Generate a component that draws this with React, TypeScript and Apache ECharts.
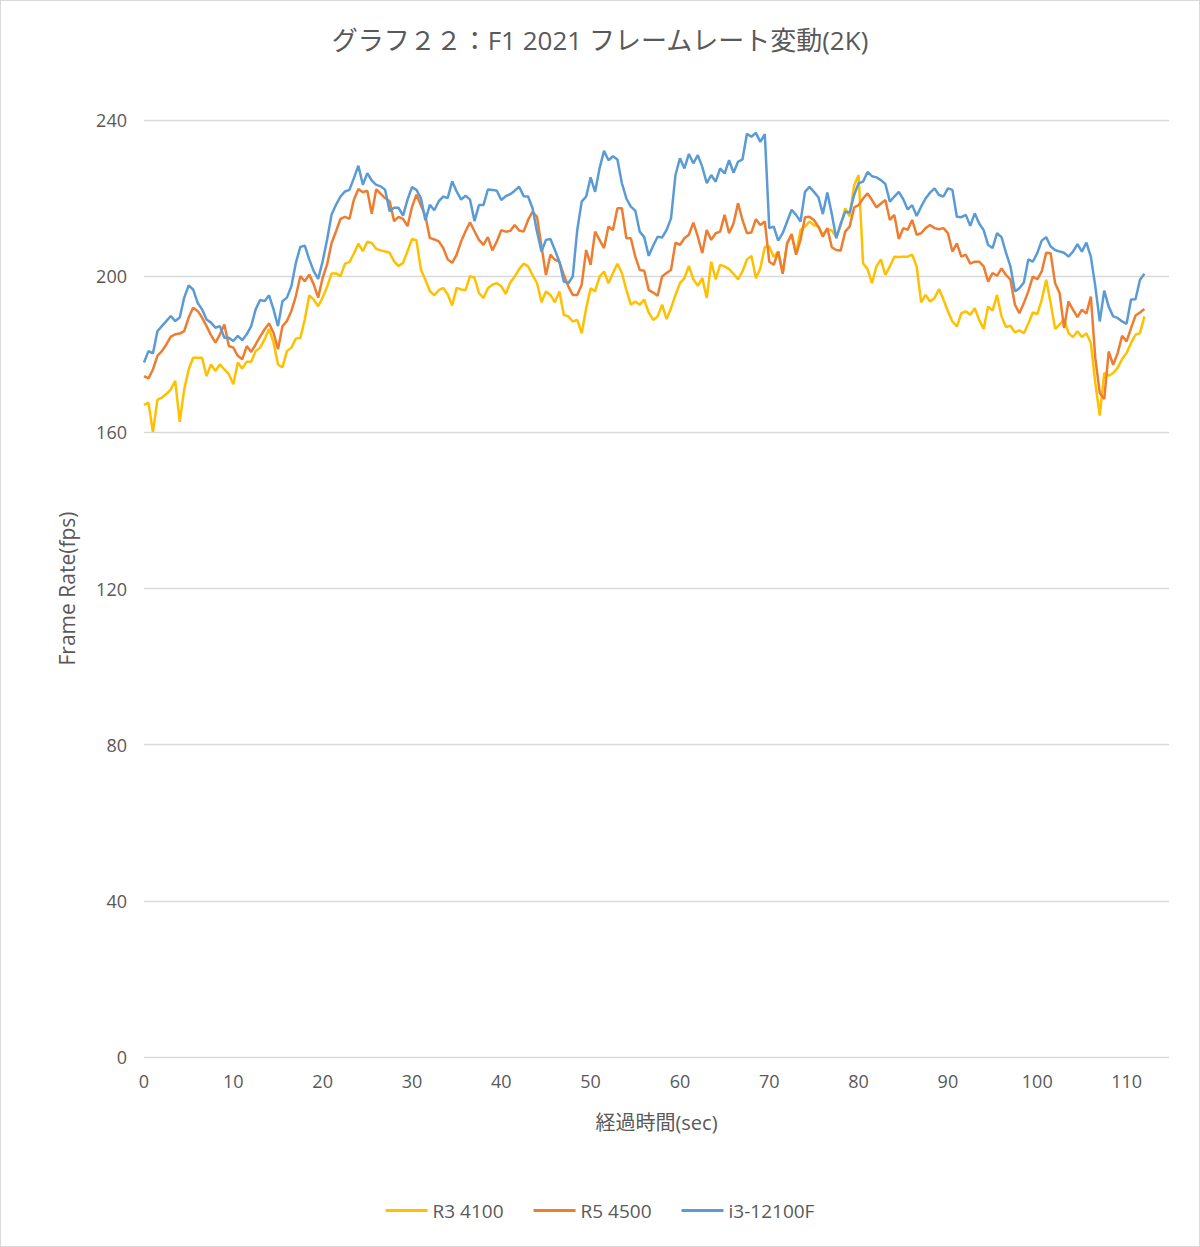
import React, { useEffect, useRef } from "react";
import * as echarts from "echarts";

const TITLE = "グラフ２２：F1 2021 フレームレート変動(2K)";
const X_NAME = "経過時間(sec)";
const Y_NAME = "Frame Rate(fps)";
const SERIES_NAMES = ["R3 4100", "R5 4500", "i3-12100F"];
const COLORS = ["#FFC000", "#ED7D31", "#5B9BD5"];
const TIME_STEP = 0.5; // seconds between samples

const r3_4100 = [
  167.0, 167.6, 160.1, 168.3, 168.9, 169.8, 171.0, 173.2, 162.7, 171.0, 176.1, 179.1, 179.1, 179.1, 174.4, 177.4, 175.7, 177.4, 176.1, 174.9,
  172.3, 177.9, 176.3, 178.1, 178.1, 180.8, 181.7, 183.8, 186.5, 183.0, 177.4, 176.6, 180.8, 181.7, 184.0, 184.2, 188.9, 195.1, 194.0, 192.3,
  194.5, 197.3, 200.7, 200.7, 200.0, 203.2, 203.6, 205.8, 208.3, 206.4, 208.8, 208.5, 207.0, 206.6, 206.3, 206.0, 203.8, 202.6, 203.4, 206.4,
  209.5, 209.2, 201.7, 199.1, 196.2, 195.1, 196.4, 197.0, 195.3, 192.5, 197.0, 196.6, 196.4, 200.0, 199.6, 195.7, 194.4, 196.9, 197.8, 198.2,
  197.4, 195.5, 198.4, 199.9, 201.8, 203.2, 202.5, 200.3, 198.2, 193.3, 196.1, 195.2, 193.3, 196.1, 190.1, 189.7, 188.4, 188.8, 185.4, 191.8,
  196.9, 196.1, 199.9, 201.2, 198.2, 200.8, 203.2, 200.8, 196.5, 192.7, 193.5, 192.7, 194.0, 190.7, 188.8, 189.7, 192.7, 189.0, 191.8, 195.2,
  198.2, 199.5, 202.6, 199.2, 197.5, 199.5, 194.4, 203.7, 199.2, 202.9, 202.5, 201.8, 200.6, 199.2, 201.2, 204.3, 205.2, 199.5, 202.0, 207.5,
  207.6, 204.9, 206.3, 200.8, 208.4, 210.6, 205.9, 211.8, 212.7, 214.0, 213.1, 212.7, 210.6, 212.0, 211.7, 210.1, 212.9, 217.4, 215.3, 223.3,
  225.9, 203.3, 201.8, 198.2, 202.5, 204.3, 200.3, 202.5, 205.0, 204.9, 205.0, 205.0, 205.5, 202.5, 193.3, 195.2, 193.5, 194.4, 196.7, 194.0,
  191.0, 188.4, 187.1, 190.5, 191.0, 190.1, 191.8, 188.8, 186.5, 192.2, 191.2, 195.2, 189.7, 187.0, 187.3, 185.6, 186.1, 185.4, 187.8, 190.7,
  190.3, 193.9, 199.1, 193.1, 186.5, 187.6, 189.0, 185.4, 184.4, 185.9, 184.4, 185.4, 182.9, 172.7, 164.3, 175.2, 174.5, 175.2, 176.5, 178.8,
  180.3, 182.9, 185.0, 185.4, 189.7,
];

const r5_4500 = [
  174.4, 173.8, 176.1, 179.6, 180.8, 182.5, 184.5, 185.1, 185.3, 185.9, 189.4, 191.9, 191.1, 189.4, 187.2, 184.9, 183.0, 185.1, 187.6, 182.1,
  181.7, 179.6, 178.7, 182.1, 180.6, 182.5, 184.5, 186.4, 187.9, 185.5, 181.3, 187.2, 188.5, 191.1, 194.9, 200.0, 198.7, 200.4, 197.9, 194.5,
  199.6, 203.0, 208.5, 211.5, 214.7, 215.2, 214.7, 219.6, 222.3, 221.5, 221.9, 216.0, 222.3, 221.1, 220.0, 219.2, 214.1, 215.2, 214.7, 212.8,
  217.7, 220.9, 218.1, 215.5, 209.8, 209.4, 208.9, 207.2, 204.3, 203.4, 205.5, 208.9, 211.5, 213.8, 211.5, 209.3, 208.0, 210.0, 206.6, 208.9,
  211.8, 211.4, 211.6, 213.1, 211.7, 211.4, 214.4, 216.5, 215.2, 207.6, 200.3, 205.5, 204.2, 203.7, 200.3, 197.4, 195.2, 195.2, 197.8, 206.7,
  202.9, 211.4, 209.3, 207.2, 212.7, 211.8, 217.4, 217.4, 209.7, 209.7, 205.0, 201.6, 201.4, 196.5, 195.8, 195.0, 199.9, 200.8, 201.6, 208.6,
  208.0, 209.7, 210.6, 213.7, 210.1, 205.9, 211.8, 209.3, 211.0, 211.4, 215.7, 211.0, 213.5, 218.7, 214.4, 211.0, 211.2, 214.6, 213.1, 214.0,
  203.7, 202.9, 206.3, 200.6, 208.4, 210.8, 205.5, 209.3, 215.1, 215.2, 214.4, 212.7, 210.1, 212.3, 207.4, 206.7, 206.6, 211.4, 212.7, 217.6,
  218.2, 219.9, 221.2, 219.5, 217.6, 218.6, 219.5, 214.4, 215.7, 209.5, 212.3, 211.9, 214.4, 210.6, 211.0, 212.3, 213.1, 212.3, 212.0, 212.3,
  211.0, 206.3, 208.4, 205.0, 205.5, 203.2, 203.7, 203.7, 202.5, 198.6, 200.8, 200.1, 202.0, 200.3, 199.1, 192.7, 190.5, 193.1, 196.1, 199.9,
  199.2, 201.2, 206.0, 205.9, 198.2, 195.7, 186.7, 193.5, 191.4, 189.5, 191.4, 190.4, 194.8, 179.0, 170.1, 168.5, 180.7, 177.3, 180.3, 184.7,
  183.3, 186.7, 189.9, 190.7, 191.6,
];

const i3_12100f = [
  177.9, 180.8, 180.2, 185.9, 187.2, 188.5, 189.8, 188.5, 189.4, 194.5, 197.6, 196.6, 193.2, 191.5, 188.9, 188.1, 186.8, 187.2, 184.2, 184.2,
  183.4, 184.7, 183.6, 185.1, 187.2, 191.5, 193.9, 193.6, 195.1, 191.5, 187.2, 193.6, 194.5, 197.4, 203.4, 207.5, 207.8, 204.3, 201.3, 199.3,
  203.8, 209.4, 215.8, 218.3, 220.4, 221.7, 222.1, 225.1, 228.3, 223.4, 226.4, 224.5, 223.4, 223.0, 222.1, 216.6, 217.5, 217.5, 215.5, 219.6,
  222.8, 222.1, 220.0, 214.3, 218.3, 216.9, 219.2, 220.4, 220.0, 224.3, 221.7, 219.6, 220.6, 219.6, 214.1, 218.2, 218.2, 222.2, 222.1, 221.9,
  219.5, 220.5, 221.0, 221.9, 222.9, 220.5, 220.4, 217.4, 211.4, 206.3, 209.3, 209.5, 206.7, 203.7, 198.6, 198.2, 199.9, 211.8, 219.1, 220.4,
  225.3, 221.6, 227.6, 232.1, 229.7, 230.7, 229.9, 223.8, 219.9, 217.8, 216.8, 211.4, 210.0, 205.2, 207.8, 210.1, 209.9, 211.8, 214.8, 225.9,
  230.2, 227.6, 231.3, 228.9, 231.0, 228.0, 223.8, 225.9, 224.2, 227.6, 226.3, 229.7, 226.5, 229.3, 229.9, 236.5, 235.7, 236.7, 234.4, 236.4,
  212.3, 212.7, 209.1, 211.0, 214.0, 217.0, 215.7, 214.0, 221.6, 222.9, 221.6, 220.2, 215.9, 221.4, 215.9, 209.7, 213.5, 216.5, 216.3, 220.8,
  223.8, 224.2, 226.7, 225.6, 225.3, 224.6, 223.6, 219.1, 220.4, 221.6, 219.7, 217.1, 218.2, 215.4, 217.8, 219.9, 221.4, 222.5, 220.8, 220.4,
  222.5, 222.1, 215.2, 215.1, 215.7, 212.9, 216.1, 213.5, 211.8, 208.0, 207.2, 211.0, 210.0, 206.0, 202.5, 196.1, 196.9, 198.4, 204.3, 203.7,
  205.9, 209.1, 210.0, 207.6, 206.7, 206.3, 206.0, 205.0, 206.3, 208.2, 206.3, 208.6, 205.0, 197.4, 188.4, 196.3, 192.2, 189.7, 189.3, 188.4,
  187.8, 194.0, 194.1, 199.1, 200.6,
];

const SERIES_VALUES = [r3_4100, r5_4500, i3_12100f];

const X_MIN = 0;
const X_MAX = 114.75;
const X_INTERVAL = 10;
const Y_MIN = 0;
const Y_MAX = 240;
const Y_INTERVAL = 40;

const FONT = "'Open Sans', 'Noto Sans CJK JP', sans-serif";
const TEXT_COLOR = "#595959";

export default function App() {
  const ref = useRef<HTMLDivElement>(null);

  useEffect(() => {
    if (!ref.current) return;
    const chart = echarts.init(ref.current, undefined, { renderer: "svg" });
    const series = SERIES_VALUES.map((vals, si) => ({
      name: SERIES_NAMES[si],
      type: "line",
      data: vals.map((v, i) => [i * TIME_STEP, v]),
      showSymbol: false,
      symbol: "none",
      lineStyle: { color: COLORS[si], width: 2.5 },
      itemStyle: { color: COLORS[si] },
      z: 2 + si,
    }));
    chart.setOption({
      animation: false,
      backgroundColor: "#ffffff",
      textStyle: { fontFamily: FONT },
      title: {
        text: TITLE,
        left: "center",
        top: 21,
        textStyle: { fontSize: 26, fontWeight: "normal", color: TEXT_COLOR, fontFamily: FONT },
      },
      legend: {
        bottom: 21,
        left: "center",
        icon: "rect",
        itemWidth: 42,
        itemHeight: 3,
        itemGap: 30,
        textStyle: { fontSize: 19, color: TEXT_COLOR, fontFamily: FONT },
        data: SERIES_NAMES,
      },
      grid: { left: 143, right: 30, top: 119, bottom: 189, containLabel: false },
      xAxis: {
        type: "value",
        min: X_MIN,
        max: X_MAX,
        interval: X_INTERVAL,
        name: X_NAME,
        nameLocation: "middle",
        nameGap: 55,
        nameTextStyle: { fontSize: 20, color: TEXT_COLOR, fontFamily: FONT },
        axisLine: { show: false },
        axisTick: { show: false },
        splitLine: { show: false },
        axisLabel: { fontSize: 18, color: TEXT_COLOR, margin: 15, showMaxLabel: false, fontFamily: FONT },
      },
      yAxis: {
        type: "value",
        min: Y_MIN,
        max: Y_MAX,
        interval: Y_INTERVAL,
        name: Y_NAME,
        nameLocation: "middle",
        nameGap: 67,
        nameTextStyle: { fontSize: 21, color: TEXT_COLOR, fontFamily: FONT },
        axisLine: { show: false },
        axisTick: { show: false },
        splitLine: { show: true, lineStyle: { color: "#d9d9d9", width: 1.3 } },
        axisLabel: { fontSize: 18, color: TEXT_COLOR, margin: 17, fontFamily: FONT },
      },
      series,
    });
    return () => chart.dispose();
  }, []);

  return (
    <div
      style={{
        position: "absolute",
        left: 0,
        top: 0,
        width: 1200,
        height: 1247,
        boxSizing: "border-box",
        border: "1.5px solid #d9d9d9",
        background: "#fff",
      }}
    >
      <div ref={ref} style={{ width: "100%", height: "100%" }} />
    </div>
  );
}
